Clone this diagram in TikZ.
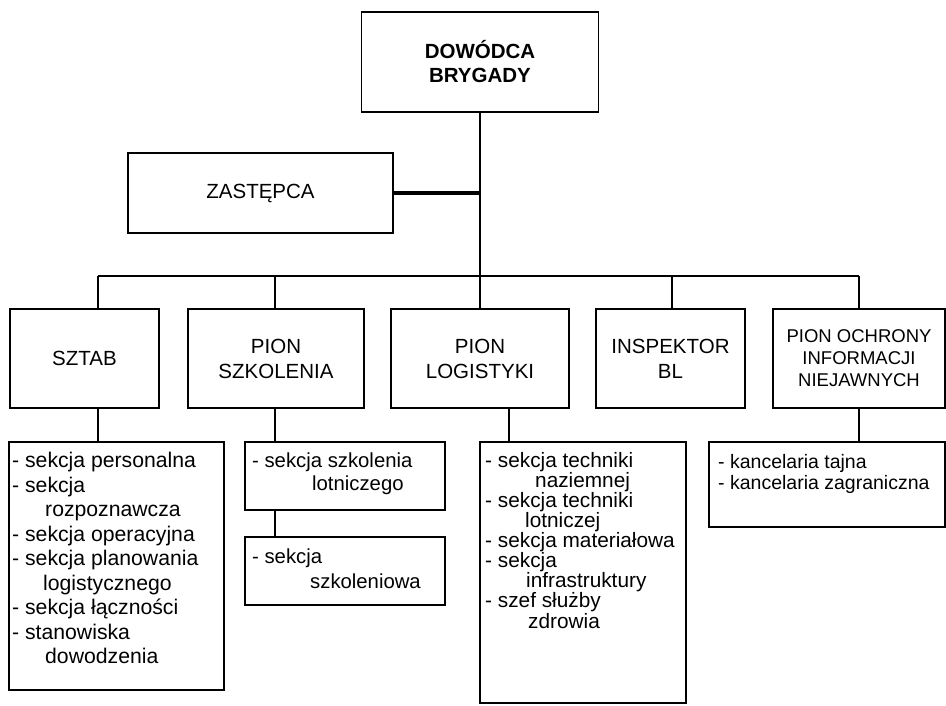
\documentclass[tikz,border=0pt]{standalone}
\usepackage{fontspec}
\setmainfont{Liberation Sans}
\begin{document}
\begin{tikzpicture}[x=1pt,y=-1pt,
  orgbox/.style={draw, line width=1.4pt, inner sep=0pt, align=center, font=\fontsize{20.5}{25}\selectfont},
  listbox/.style={draw, line width=1.4pt, inner sep=0pt},
  listtxt/.style={inner sep=0pt, anchor=north west, align=left},
  conn/.style={line width=1.4pt},
  heavy/.style={line width=3.5pt}]
\useasboundingbox (0,0) rectangle (946,705);
\fill[white] (0,0) rectangle (946,705);

% top level
\node[orgbox, font=\bfseries\fontsize{20.5}{24}\selectfont, minimum width=237pt, minimum height=100pt] (dow) at (480,62) {DOWÓDCA\\BRYGADY};
\node[orgbox, minimum width=265pt, minimum height=80pt] (zast) at (260.5,193) {ZASTĘPCA};

% second row
\node[orgbox, minimum width=149pt, minimum height=99pt] (sztab) at (84.5,358.5) {SZTAB};
\node[orgbox, minimum width=176pt, minimum height=99pt] (szkol) at (276,358.5) {PION\\SZKOLENIA};
\node[orgbox, minimum width=178pt, minimum height=99pt] (logi) at (480,358.5) {PION\\LOGISTYKI};
\node[orgbox, minimum width=149pt, minimum height=99pt] (insp) at (670.5,358.5) {INSPEKTOR\\BL};
\node[orgbox, font=\fontsize{18.5}{22}\selectfont, minimum width=172pt, minimum height=99pt] (ochr) at (859,358.5) {PION OCHRONY\\INFORMACJI\\NIEJAWNYCH};

% sub boxes
\node[listbox, minimum width=215pt, minimum height=248pt] (sztabsub) at (116.5,566) {};
\node[listbox, minimum width=200pt, minimum height=68pt] (szk1) at (345,476) {};
\node[listbox, minimum width=200pt, minimum height=68pt] (szk2) at (345,571) {};
\node[listbox, minimum width=206pt, minimum height=261pt] (logsub) at (583,572.5) {};
\node[listbox, minimum width=236pt, minimum height=85pt] (ochsub) at (827,484.5) {};

% sub texts
\node[listtxt, font=\fontsize{21.2}{24.5}\selectfont] (sztabtxt) at (12,452) {- sekcja personalna\\- sekcja\\\hspace*{33pt}rozpoznawcza\\- sekcja operacyjna\\- sekcja planowania\\\hspace*{31pt}logistycznego\\- sekcja łączności\\- stanowiska\\\hspace*{33pt}dowodzenia};
\node[listtxt, font=\fontsize{20.3}{23}\selectfont] (szk1txt) at (252,453) {- sekcja szkolenia\\\hspace*{60pt}lotniczego};
\node[listtxt, font=\fontsize{20.3}{25}\selectfont] (szk2txt) at (252,549) {- sekcja\\\hspace*{58pt}szkoleniowa};
\node[listtxt, font=\fontsize{20.8}{20.1}\selectfont] (logtxt) at (485,452) {- sekcja techniki\\\hspace*{50pt}naziemnej\\- sekcja techniki\\\hspace*{40pt}lotniczej\\- sekcja materiałowa\\- sekcja\\\hspace*{41pt}infrastruktury\\- szef służby\\\hspace*{43pt}zdrowia};
\node[listtxt, font=\fontsize{19.5}{21.5}\selectfont] (ochtxt) at (718,454) {- kancelaria tajna\\- kancelaria zagraniczna};

% connectors
\coordinate (bar1) at (98,276);
\coordinate (bar2) at (275,276);
\coordinate (bar4) at (672,276);
\coordinate (bar5) at (859,276);
\coordinate (lx) at (509,0);
\draw[conn] (bar1) -- (bar5);
\draw[conn] (dow.south) -- (logi.north);
\draw[heavy] (zast.east) -- (zast.east -| dow.south);
\draw[conn] (bar1) -- (bar1 |- sztab.north);
\draw[conn] (bar2) -- (bar2 |- szkol.north);
\draw[conn] (bar4) -- (bar4 |- insp.north);
\draw[conn] (bar5) -- (bar5 |- ochr.north);
\draw[conn] (bar1 |- sztab.south) -- (bar1 |- sztabsub.north);
\draw[conn] (bar2 |- szkol.south) -- (bar2 |- szk1.north);
\draw[conn] (bar2 |- szk1.south) -- (bar2 |- szk2.north);
\draw[conn] (lx |- logi.south) -- (lx |- logsub.north);
\draw[conn] (bar5 |- ochr.south) -- (bar5 |- ochsub.north);
\end{tikzpicture}
\end{document}
